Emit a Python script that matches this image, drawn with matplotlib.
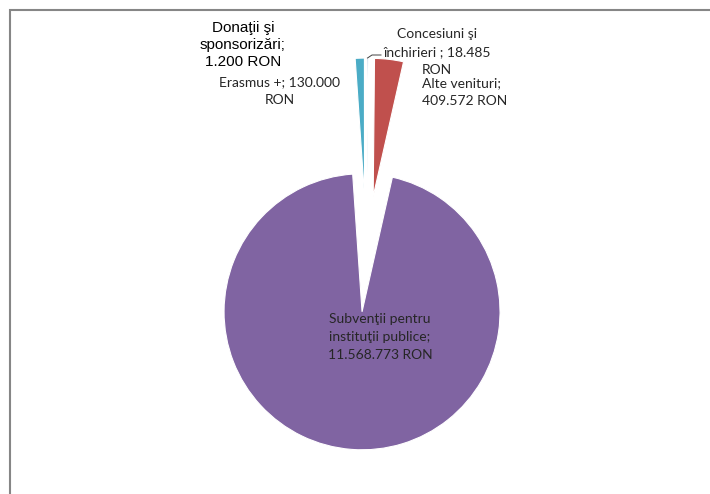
import numpy as np
import matplotlib
matplotlib.use("Agg")
import matplotlib.pyplot as plt
from matplotlib.patches import Rectangle

# date (ordinea din Excel, in sensul acelor de ceasornic de la ora 12)
categorii = ["Concesiuni şi\nînchirieri ; 18.485\nRON",
             "Alte venituri;\n409.572 RON",
             "Subvenţii pentru\ninstituţii publice;\n11.568.773 RON",
             "Erasmus +; 130.000\nRON",
             "Donaţii şi\nsponsorizări;\n1.200 RON"]
valori = [18485, 409572, 11568773, 130000, 1200]
culori = ["#4F81BD", "#C0504D", "#8064A2", "#4BACC6", "#F79646"]

W, H = 710, 494
cx, cy, R = 366.5, 254.0, 138.0   # centru si raza in pixeli

def px(x, y):
    return (x - cx) / R, (cy - y) / R

fig = plt.figure(figsize=(W / 100, H / 100), dpi=100)
ax = fig.add_axes([0, 0, 1, 1])
ax.axis("off")

wedges, _ = ax.pie(valori, colors=culori, startangle=90, counterclock=False,
                   explode=[0.42] * len(valori), radius=1.0,
                   wedgeprops=dict(linewidth=0.8, edgecolor="white"))

ax.set_xlim(-cx / R, (W - cx) / R)
ax.set_ylim(-(H - cy) / R, cy / R)
ax.set_aspect("equal", adjustable="box")

# etichete
calibri = ["Lato", "DejaVu Sans"]
col_txt = "#262626"
pozitii = [(437, 52, "center"), (422, 92, "left"), (380, 337, "center"),
           (280, 91, "center"), (243, 45, "center")]
for i, (lab, (x, y, ha)) in enumerate(zip(categorii, pozitii)):
    tx, ty = px(x, y)
    if i == 4:
        ax.text(tx, ty, lab, ha=ha, va="center", fontsize=11,
                family=["Liberation Sans", "DejaVu Sans"], color="black",
                linespacing=1.3, multialignment="center")
    else:
        ax.text(tx, ty, lab, ha=ha, va="center", fontsize=10,
                family=calibri, color=col_txt, linespacing=1.6,
                multialignment="center" if ha == "center" else "left")

# linie de legatura pentru Concesiuni
w = wedges[0]
ang = np.deg2rad((w.theta1 + w.theta2) / 2)
x0 = w.center[0] + w.r * np.cos(ang)
y0 = w.center[1] + w.r * np.sin(ang)
x1, y1 = px(372, 55)
x2, y2 = px(381, 55)
ax.plot([x0, x1, x2], [y0, y1, y2], color="#404040", lw=0.7)

# chenarul graficului (taiat in captura)
fig.patches.append(Rectangle((10 / W, -0.1), 1.2, (H - 10) / H + 0.1,
                             transform=fig.transFigure, fill=False,
                             edgecolor="#868686", linewidth=1.5))

fig.savefig("out.png", dpi=100, facecolor="white")
